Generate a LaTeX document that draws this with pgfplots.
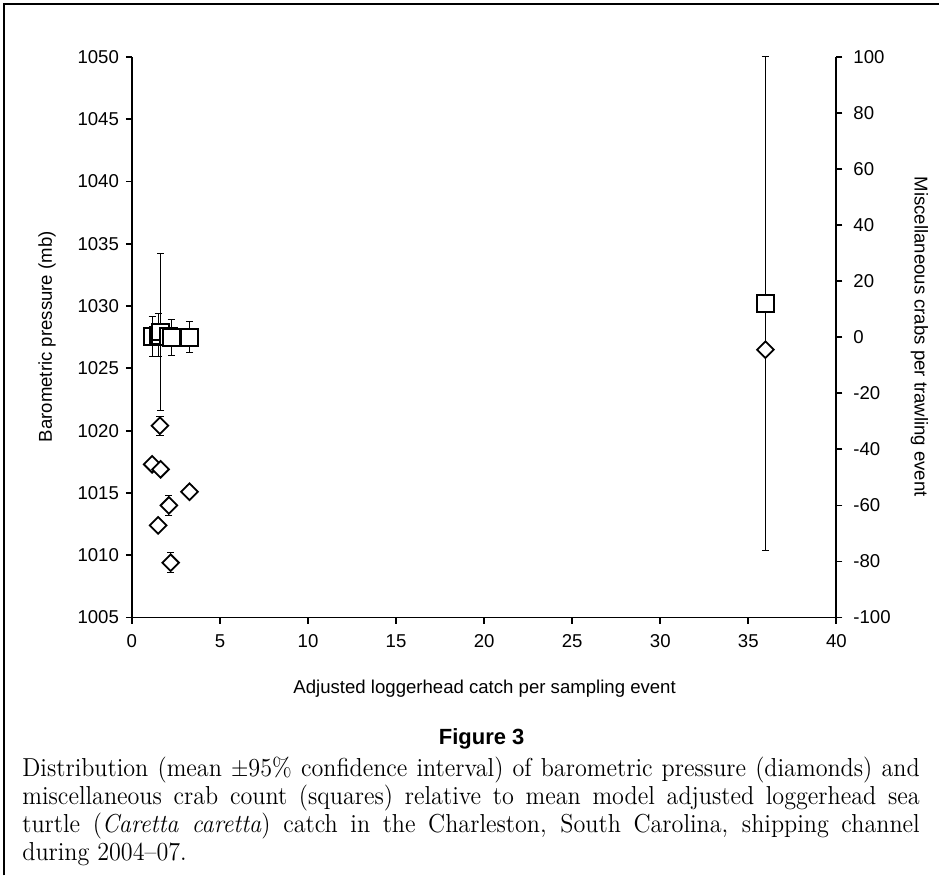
\documentclass[border=0pt]{standalone}
\usepackage{fontspec}
\setsansfont{Liberation Sans}
\usepackage{graphicx}
\usepackage{pgfplots}
\pgfplotsset{compat=1.18}
\begin{document}
\begin{tikzpicture}
\path (0pt,0pt) rectangle (470pt,-438pt);
\draw[line width=0.7pt] (2pt,-438pt) -- (2pt,-2pt) -- (470pt,-2pt);
\pgfplotsset{
  myax/.style={
    at={(66pt,-309pt)}, anchor=south west, scale only axis,
    width=352.5pt, height=280.5pt, xmin=0, xmax=40,
    axis line style={line width=0.9pt,-}, tick align=outside,
    major tick length=3pt, tick style={line width=0.9pt,black},
    ticklabel style={font=\sffamily\fontsize{9.3}{10}\selectfont},
    /pgf/number format/assume math mode=true,
    /pgf/number format/1000 sep={},
    clip=false,
  }
}
% right axis: crabs
\begin{axis}[myax, ymin=-100, ymax=100, axis x line=none, axis y line*=right,
  ytick={-100,-80,...,100}, yticklabel style={xshift=2pt}]
\addplot[only marks, mark=square*, mark size=4.2pt,
  mark options={fill=white, draw=black, line width=1pt},
  error bars/.cd, y dir=both, y explicit,
  error bar style={line width=0.5pt, black},
  error mark options={rotate=90, mark size=1.8pt, line width=0.5pt}]
coordinates {
(1.15,0.3) +- (0,7)
(1.49,0.7) +- (0,7.7)
(1.59,0.5) +- (0,2)
(1.63,1.9) +- (0,28)
(2.10,0.2) +- (0,2)
(2.23,0.0) +- (0,6.5)
(3.27,0.0) +- (0,5.5)
(35.97,12) +- (0,88)
};
\end{axis}
% left axis: pressure
\begin{axis}[myax, ymin=1005, ymax=1050, axis x line*=bottom, axis y line*=left,
  xtick={0,5,...,40}, ytick={1005,1010,...,1050}, xticklabel style={yshift=-2pt}]
\addplot[only marks, mark=square*, mark size=2.95pt,
  mark options={rotate=45, fill=white, draw=black, line width=0.9pt},
  error bars/.cd, y dir=both, y explicit,
  error bar style={line width=0.5pt, black},
  error mark options={rotate=90, mark size=1.8pt, line width=0.5pt}]
coordinates {
(1.15,1017.3) +- (0,0.2)
(1.49,1012.4) +- (0,0.3)
(1.59,1020.4) +- (0,0.75)
(1.63,1016.9) +- (0,0.3)
(2.10,1014.0) +- (0,0.8)
(2.20,1009.4) +- (0,0.8)
(3.27,1015.1) +- (0,0.5)
(35.97,1026.5) +- (0,0.4)
};
\end{axis}
\node[font=\sffamily\fontsize{9.3}{10}\selectfont] at (242.5pt,-344.5pt) {Adjusted loggerhead catch per sampling event};
\node[font=\sffamily\fontsize{9.3}{10}\selectfont, rotate=90] at (23.5pt,-168.5pt) {Barometric pressure (mb)};
\node[font=\sffamily\fontsize{9.3}{10}\selectfont, rotate=-90] at (460pt,-168.5pt) {Miscellaneous crabs per trawling event};
\node[font=\sffamily\bfseries\fontsize{11}{13}\selectfont] at (241pt,-369.5pt) {Figure 3};
\begin{scope}[every node/.style={anchor=base west, inner sep=0pt, font=\fontsize{13}{14}\selectfont}]
\node at (11pt,-388.5pt) {\scalebox{0.93}[1]{\makebox[482.8pt][s]{Distribution (mean $\pm$95\% confidence interval) of barometric pressure (diamonds) and}}};
\node at (11pt,-402.5pt) {\scalebox{0.93}[1]{\makebox[482.8pt][s]{miscellaneous crab count (squares) relative to mean model adjusted loggerhead sea}}};
\node at (11pt,-416.5pt) {\scalebox{0.93}[1]{\makebox[482.8pt][s]{turtle (\textit{Caretta caretta}) catch in the Charleston, South Carolina, shipping channel}}};
\node at (11pt,-430.5pt) {\scalebox{0.93}[1]{during 2004\textendash 07.}};
\end{scope}
\end{tikzpicture}
\end{document}
